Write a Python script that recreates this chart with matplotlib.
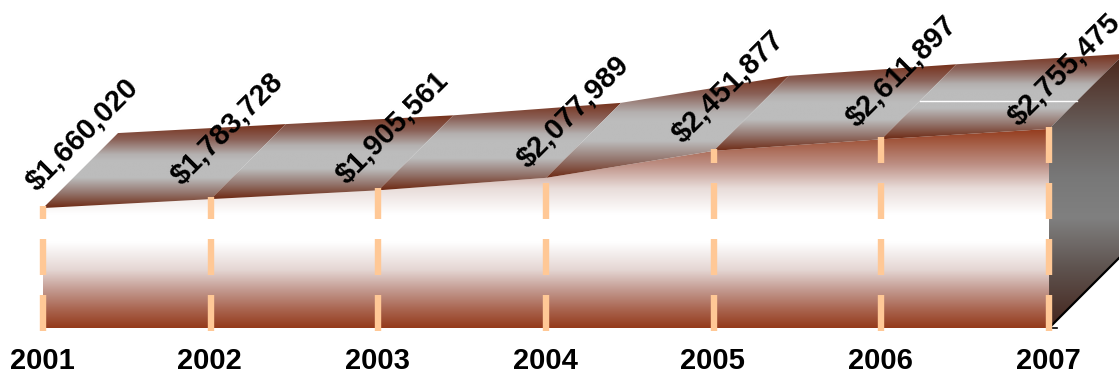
import matplotlib
matplotlib.use("Agg")
import matplotlib.pyplot as plt
import numpy as np
from matplotlib.colors import LinearSegmentedColormap
from matplotlib.patches import Polygon

plt.rcParams['font.family'] = ['Liberation Sans', 'DejaVu Sans']

years = [2001, 2002, 2003, 2004, 2005, 2006, 2007]
values = [1660020, 1783728, 1905561, 2077989, 2451877, 2611897, 2755475]
value_labels = ["$1,660,020", "$1,783,728", "$1,905,561", "$2,077,989",
                "$2,451,877", "$2,611,897", "$2,755,475"]

# label offsets from the top of each column, in pixels
label_dx = [39, 17, 14, 27, 15, 20, 15]
label_dy = [73, 70, 63, 66, 64, 68, 59]

W, H = 1119, 377
PX_PER_YEAR = 167.67
DOLLARS_PER_PX = 13840
# 3d depth of the area, same in both directions
DEPTH_PX = 75
depth_x = DEPTH_PX / PX_PER_YEAR
depth_y = DEPTH_PX * DOLLARS_PER_PX

fig = plt.figure(figsize=(W / 100, H / 100), dpi=100)
ax = fig.add_axes([0, 0, 1, 1])
ax.axis("off")

xlim = (2001 - 43 / PX_PER_YEAR, 2001 + (W - 43) / PX_PER_YEAR)
ylim = ((328 - H) * DOLLARS_PER_PX, 328 * DOLLARS_PER_PX)

front_cmap = LinearSegmentedColormap.from_list("front", [
    (0.0, "#943a1b"), (0.09, "#a8654f"), (0.18, "#bd8f84"), (0.3, "#e8dcd9"), (0.43, "#ffffff"),
    (0.57, "#ffffff"), (0.71, "#e4d6d3"), (0.81, "#c39a90"), (0.91, "#a9644f"), (1.0, "#943a1b")])
top_cmap = LinearSegmentedColormap.from_list("top", [
    (0.0, "#76301a"), (0.18, "#8a6056"), (0.36, "#b4b0af"), (0.44, "#bcbcbc"), (0.64, "#bcbcbc"),
    (0.82, "#94766e"), (1.0, "#6e2a14")])
side_cmap = LinearSegmentedColormap.from_list("side", [
    (0.0, "#4a2418"), (0.3, "#6a6462"), (0.45, "#787878"), (0.6, "#808080"), (0.78, "#5f5450"), (1.0, "#44241c")])
grad = np.linspace(0, 1, 256).reshape(-1, 1)


def gradient_poly(pts, cmap):
    pts = np.array(pts)
    im = ax.imshow(grad, cmap=cmap, aspect="auto", interpolation="bilinear", zorder=2,
                   extent=(pts[:, 0].min(), pts[:, 0].max(), pts[:, 1].min(), pts[:, 1].max()))
    poly = Polygon(pts, closed=True, transform=ax.transData, fc="none", ec="none")
    ax.add_patch(poly)
    im.set_clip_path(poly)


# front face
front = [(years[0], 0)] + list(zip(years, values)) + [(years[-1], 0)]
gradient_poly(front, front_cmap)

# top face, one band per year
for i in range(len(years) - 1):
    x0, x1 = years[i], years[i + 1]
    y0, y1 = values[i], values[i + 1]
    gradient_poly([(x0, y0), (x1, y1), (x1 + depth_x, y1 + depth_y), (x0 + depth_x, y0 + depth_y)], top_cmap)

# right side
xe, ye = years[-1], values[-1]
gradient_poly([(xe, 0), (xe, ye), (xe + depth_x, ye + depth_y), (xe + depth_x, depth_y)], side_cmap)

# floor edge and gridline seen through the top
ax.plot([xe, xe + depth_x], [0, depth_y], color="black", lw=1.6, zorder=3)
ax.plot([xe, xe + 0.05], [0, 0], color="black", lw=1.2, zorder=3)
grid_val = 3140000
ax.plot([2006 + 39 / PX_PER_YEAR, xe + 28 / PX_PER_YEAR], [grid_val, grid_val], color="white", lw=1.0, zorder=3)

# dashed drop lines, dashes start at the bottom
lw_pt = 6.4 * 72 / 100
for x, v in zip(years, values):
    ax.plot([x, x], [-3 * DOLLARS_PER_PX, v + 2 * DOLLARS_PER_PX], color="#ffc896", lw=lw_pt,
            dash_capstyle="butt", dashes=(36 / 6.4, 20 / 6.4), zorder=4)

for x, v, txt, dx, dy in zip(years, values, value_labels, label_dx, label_dy):
    ax.text(x + dx / PX_PER_YEAR, v + dy * DOLLARS_PER_PX, txt, rotation=45, rotation_mode="anchor",
            ha="center", va="center", fontsize=21, fontweight="bold", color="black", zorder=5)

for x in years:
    ax.text(x - 1 / PX_PER_YEAR, -33 * DOLLARS_PER_PX, str(x), ha="center", va="center",
            fontsize=21, fontweight="bold", color="black", zorder=5)

ax.set_xlim(xlim)
ax.set_ylim(ylim)
fig.savefig("out.png", dpi=100, facecolor="white")
